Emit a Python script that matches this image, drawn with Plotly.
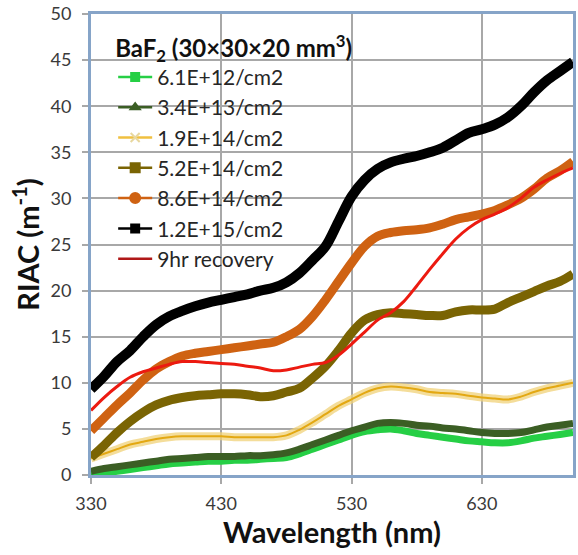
import plotly.graph_objects as go

wavelength = [330, 340, 350, 360, 370, 380, 390, 400, 410, 420, 430, 440, 450, 460, 470, 480, 490,
              500, 510, 520, 530, 540, 550, 560, 570, 580, 590, 600, 610, 620, 630, 640, 650, 660,
              670, 680, 690, 700]

riac_6_1e12 = [0.1, 0.2, 0.4, 0.6, 0.8, 1.0, 1.2, 1.3, 1.4, 1.5, 1.5, 1.6, 1.6, 1.7, 1.8, 1.9, 2.3,
               2.8, 3.3, 3.8, 4.3, 4.7, 4.9, 5.0, 4.8, 4.5, 4.3, 4.1, 3.9, 3.7, 3.6, 3.5, 3.5, 3.7,
               4.0, 4.2, 4.4, 4.6]
riac_3_4e13 = [0.4, 0.7, 0.9, 1.1, 1.3, 1.5, 1.7, 1.8, 1.9, 2.0, 2.0, 2.0, 2.1, 2.1, 2.2, 2.4, 2.8,
               3.3, 3.8, 4.3, 4.8, 5.2, 5.6, 5.7, 5.6, 5.4, 5.3, 5.1, 5.0, 4.8, 4.6, 4.5, 4.5, 4.6,
               4.9, 5.2, 5.4, 5.6]
riac_1_9e14 = [1.8, 2.3, 2.8, 3.3, 3.6, 3.9, 4.1, 4.2, 4.2, 4.2, 4.2, 4.1, 4.1, 4.1, 4.1, 4.3, 4.9,
               5.7, 6.6, 7.5, 8.2, 8.9, 9.4, 9.6, 9.5, 9.3, 9.0, 8.9, 8.8, 8.6, 8.4, 8.3, 8.2, 8.5,
               9.0, 9.4, 9.7, 10.0]
riac_5_2e14 = [1.9, 3.2, 4.6, 5.8, 6.8, 7.6, 8.1, 8.4, 8.6, 8.7, 8.8, 8.8, 8.7, 8.5, 8.6, 9.0, 9.4,
               10.5, 11.8, 13.5, 15.4, 16.8, 17.4, 17.6, 17.5, 17.4, 17.3, 17.3, 17.7, 17.9, 17.9,
               18.0, 18.7, 19.3, 19.9, 20.5, 21.0, 21.8]
riac_8_6e14 = [4.8, 6.2, 7.6, 8.9, 10.3, 11.5, 12.3, 12.9, 13.2, 13.4, 13.6, 13.8, 14.0, 14.2, 14.4,
               15.0, 15.8, 17.2, 19.0, 21.0, 23.0, 24.8, 25.9, 26.3, 26.5, 26.6, 26.8, 27.2, 27.7,
               28.0, 28.3, 28.7, 29.3, 30.0, 31.0, 32.2, 33.0, 34.0]
riac_1_2e15 = [9.3, 10.7, 12.3, 13.5, 15.0, 16.3, 17.2, 17.8, 18.3, 18.7, 19.0, 19.3, 19.6, 20.0,
               20.3, 20.9, 21.9, 23.3, 24.8, 27.5, 30.2, 32.0, 33.2, 33.9, 34.3, 34.6, 35.0, 35.5,
               36.3, 37.1, 37.5, 38.0, 38.8, 40.0, 41.5, 42.8, 43.8, 44.8]
riac_recovery = [7.0, 8.4, 9.6, 10.6, 11.2, 11.6, 12.0, 12.3, 12.3, 12.2, 12.1, 12.0, 11.8, 11.6,
                 11.3, 11.4, 11.7, 12.0, 12.2, 13.0, 14.2, 15.5, 16.8, 17.6, 18.8, 20.5, 22.3, 24.0,
                 25.6, 26.8, 27.7, 28.3, 29.0, 30.0, 31.2, 32.0, 32.7, 33.3]

series_names = ["6.1E+12/cm2", "3.4E+13/cm2", "1.9E+14/cm2", "5.2E+14/cm2", "8.6E+14/cm2",
                "1.2E+15/cm2", "9hr recovery"]
tick_x = [330, 430, 530, 630]

FONT = "Lato"
fig = go.Figure()

# data curves (drawn as thick lines, like densely packed markers)
curves = [
    (riac_6_1e12, "#26cf45", 7),
    (riac_3_4e13, "#3b5e24", 7),
    (riac_5_2e14, "#7a6403", 9),
    (riac_8_6e14, "#cf6212", 9),
    (riac_1_2e15, "#000000", 10),
]
for ys, col, w in curves[:2]:
    fig.add_trace(go.Scatter(x=wavelength, y=ys, mode="lines", showlegend=False,
                             line=dict(color=col, width=w, shape="spline")))
# yellow: light halo of x markers + thin line
fig.add_trace(go.Scatter(x=wavelength, y=riac_1_9e14, mode="lines", showlegend=False,
                         line=dict(color="rgba(240,210,120,0.75)", width=8, shape="spline")))
fig.add_trace(go.Scatter(x=wavelength, y=riac_1_9e14, mode="lines", showlegend=False,
                         line=dict(color="#e3a812", width=2, shape="spline")))
for ys, col, w in curves[2:]:
    fig.add_trace(go.Scatter(x=wavelength, y=ys, mode="lines", showlegend=False,
                             line=dict(color=col, width=w, shape="spline")))
fig.add_trace(go.Scatter(x=wavelength, y=riac_recovery, mode="lines", showlegend=False,
                         line=dict(color="#ec1a10", width=3, shape="spline")))

# legend entries
legend_styles = [
    ("#26cf45", "square", "#26cf45", 8),
    ("#3b5e24", "triangle-up", "#3b5e24", 8),
    ("#f0c040", "x-thin", "#e8d8a0", 9),
    ("#7a6403", "square", "#7a6403", 9),
    ("#cf6212", "circle", "#cf6212", 10),
    ("#000000", "square", "#000000", 8),
]
for name, (lc, sym, mc, ms) in zip(series_names[:6], legend_styles):
    fig.add_trace(go.Scatter(x=[None], y=[None], mode="lines+markers", name=name,
                             line=dict(color=lc, width=2.5),
                             marker=dict(symbol=sym, color=mc, size=ms,
                                         line=dict(color=mc, width=2))))
fig.add_trace(go.Scatter(x=[None], y=[None], mode="lines", name=series_names[6],
                         line=dict(color="#b01818", width=2.5)))

border = "#86a4c8"
grid = "#a8a8a8"
fig.update_layout(
    width=578, height=555,
    margin=dict(l=91, r=2, t=12, b=80),
    paper_bgcolor="white", plot_bgcolor="white",
    font=dict(family=FONT, size=18, color="#3a3a3a"),
    legend=dict(
        x=0.046, y=0.975, xanchor="left", yanchor="top",
        bgcolor="rgba(255,255,255,0)",
        font=dict(family=FONT, size=21, color="#262626"),
        title=dict(text="<b>BaF<sub>2</sub> (30×30×20 mm<sup>3</sup>)</b>",
                   font=dict(family=FONT, size=24, color="#111111"), side="top"),
        itemwidth=34,
        tracegroupgap=0,
    ),
    xaxis=dict(
        range=[330, 700], tickvals=tick_x, ticktext=[str(v) for v in tick_x],
        showgrid=True, gridcolor=grid, gridwidth=1.5,
        showline=True, linecolor=border, linewidth=3, mirror=True,
        ticks="outside", ticklen=6, tickcolor=grid, tickwidth=1.5,
        ticklabelstandoff=4,
        tickfont=dict(family=FONT, size=18, color="#3a3a3a"),
        title=dict(text="<b>Wavelength (nm)</b>", font=dict(family=FONT, size=29, color="#111111"),
                   standoff=4),
        zeroline=False,
    ),
    yaxis=dict(
        range=[0, 50], dtick=5, tick0=0,
        showgrid=True, gridcolor=grid, gridwidth=1.5,
        showline=True, linecolor=border, linewidth=3, mirror=True,
        ticks="outside", ticklen=6, tickcolor=grid, tickwidth=1.5,
        ticklabelstandoff=7,
        tickfont=dict(family=FONT, size=18, color="#3a3a3a"),
        title=dict(text="<b>RIAC (m<sup>-1</sup>)</b>", font=dict(family=FONT, size=29, color="#111111"),
                   standoff=3),
        zeroline=False,
    ),
)

fig.write_html("out.html")
